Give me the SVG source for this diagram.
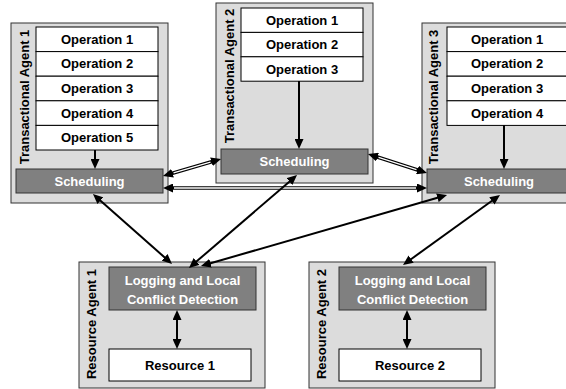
<svg xmlns="http://www.w3.org/2000/svg" width="566" height="389" viewBox="0 0 566 389">
  <style>
    text { font-family: "Liberation Sans", Arial, sans-serif; font-weight: bold; font-size: 13px; }
    .frame { fill: #dcdcdc; stroke: #333333; stroke-width: 1; }
    .op { fill: #ffffff; stroke: #000000; stroke-width: 1; }
    .dark { fill: #808080; stroke: #333333; stroke-width: 1; }
    .res { fill: #ffffff; stroke: #000000; stroke-width: 1; }
    .lbl { fill: #000000; text-anchor: middle; }
    .wlbl { fill: #ffffff; text-anchor: middle; }
    .side { fill: #000000; text-anchor: middle; }
    .link { stroke: #000000; stroke-width: 2; fill: none; }
    .dbl { stroke: #000000; stroke-width: 3.6; fill: none; }
    .dblgap { stroke: #ffffff; stroke-width: 1.3; fill: none; }
  </style>
  <defs>
    <marker id="head" markerUnits="userSpaceOnUse" markerWidth="11" markerHeight="9" refX="1" refY="4.5" orient="auto-start-reverse">
      <path d="M0,0 L10,4.5 L0,9 z" fill="#000000"/>
    </marker>
  </defs>

  <rect width="566" height="389" fill="#ffffff"/>

  <!-- Transactional Agent 1 -->
  <g id="ta1">
    <rect class="frame" x="11" y="23" width="157" height="180"/>
    <text class="side" transform="translate(28.5,97) rotate(-90)">Transactional Agent 1</text>
    <rect class="op" x="36" y="27" width="122" height="24.6"/>
    <rect class="op" x="36" y="51.6" width="122" height="24.6"/>
    <rect class="op" x="36" y="76.2" width="122" height="24.6"/>
    <rect class="op" x="36" y="100.8" width="122" height="24.6"/>
    <rect class="op" x="36" y="125.4" width="122" height="24.6"/>
    <text class="lbl" x="97" y="43.8">Operation 1</text>
    <text class="lbl" x="97" y="68.4">Operation 2</text>
    <text class="lbl" x="97" y="93">Operation 3</text>
    <text class="lbl" x="97" y="117.6">Operation 4</text>
    <text class="lbl" x="97" y="142.2">Operation 5</text>
    <rect class="dark" x="16" y="169" width="147" height="24"/>
    <text class="wlbl" x="89.5" y="185.7">Scheduling</text>
  </g>

  <!-- Transactional Agent 2 -->
  <g id="ta2">
    <rect class="frame" x="216" y="3" width="157" height="180"/>
    <text class="side" transform="translate(233.5,76) rotate(-90)">Transactional Agent 2</text>
    <rect class="op" x="241" y="8" width="122" height="24.4"/>
    <rect class="op" x="241" y="32.4" width="122" height="24.4"/>
    <rect class="op" x="241" y="56.8" width="122" height="24.4"/>
    <text class="lbl" x="302" y="24.7">Operation 1</text>
    <text class="lbl" x="302" y="49.1">Operation 2</text>
    <text class="lbl" x="302" y="73.5">Operation 3</text>
    <rect class="dark" x="221" y="149" width="147" height="25"/>
    <text class="wlbl" x="294.5" y="166">Scheduling</text>
  </g>

  <!-- Transactional Agent 3 -->
  <g id="ta3">
    <rect class="frame" x="422" y="23" width="160" height="180"/>
    <text class="side" transform="translate(438,97) rotate(-90)">Transactional Agent 3</text>
    <rect class="op" x="447" y="27" width="122" height="24.6"/>
    <rect class="op" x="447" y="51.6" width="122" height="24.6"/>
    <rect class="op" x="447" y="76.2" width="122" height="24.6"/>
    <rect class="op" x="447" y="100.8" width="122" height="24.6"/>
    <text class="lbl" x="507" y="43.8">Operation 1</text>
    <text class="lbl" x="507" y="68.4">Operation 2</text>
    <text class="lbl" x="507" y="93">Operation 3</text>
    <text class="lbl" x="507" y="117.6">Operation 4</text>
    <rect class="dark" x="427" y="169" width="147" height="24"/>
    <text class="wlbl" x="499" y="185.7">Scheduling</text>
  </g>

  <!-- Resource Agent 1 -->
  <g id="ra1">
    <rect class="frame" x="79" y="262" width="186" height="126"/>
    <text class="side" transform="translate(96,324) rotate(-90)">Resource Agent 1</text>
    <rect class="dark" x="109" y="267" width="147" height="43"/>
    <text class="wlbl" x="182.5" y="284.5">Logging and Local</text>
    <text class="wlbl" x="182.5" y="303.5">Conflict Detection</text>
    <rect class="res" x="109" y="349" width="142" height="32"/>
    <text class="lbl" x="180" y="369.5">Resource 1</text>
  </g>

  <!-- Resource Agent 2 -->
  <g id="ra2">
    <rect class="frame" x="309" y="262" width="186" height="126"/>
    <text class="side" transform="translate(326,324) rotate(-90)">Resource Agent 2</text>
    <rect class="dark" x="339" y="267" width="147" height="43"/>
    <text class="wlbl" x="412.5" y="284.5">Logging and Local</text>
    <text class="wlbl" x="412.5" y="303.5">Conflict Detection</text>
    <rect class="res" x="339" y="349" width="142" height="32"/>
    <text class="lbl" x="410" y="369.5">Resource 2</text>
  </g>

  <!-- Connectors -->
  <g id="connectors">
    <!-- scheduler-to-scheduler links (double line) -->
    <line class="dbl" x1="171.6" y1="173.5" x2="212.4" y2="161.5" marker-start="url(#head)" marker-end="url(#head)"/>
    <line class="dblgap" x1="173.5" y1="172.9" x2="210.5" y2="162.1"/>
    <line class="dbl" x1="172" y1="188" x2="418" y2="188" marker-start="url(#head)" marker-end="url(#head)"/>
    <line class="dblgap" x1="174" y1="188" x2="416" y2="188"/>
    <line class="dbl" x1="376.6" y1="156.8" x2="418.4" y2="170.2" marker-start="url(#head)" marker-end="url(#head)"/>
    <line class="dblgap" x1="378.5" y1="157.4" x2="416.5" y2="169.6"/>

    <!-- operations to scheduling -->
    <line class="link" x1="95" y1="150" x2="95" y2="160" marker-end="url(#head)"/>
    <line class="link" x1="299" y1="81" x2="299" y2="140" marker-end="url(#head)"/>
    <line class="link" x1="504" y1="125" x2="504" y2="160" marker-end="url(#head)"/>

    <!-- scheduling to logging -->
    <line class="link" x1="99.7" y1="200" x2="165.3" y2="258" marker-start="url(#head)" marker-end="url(#head)"/>
    <line class="link" x1="290.2" y1="180.9" x2="195.8" y2="262.1" marker-start="url(#head)" marker-end="url(#head)"/>
    <line class="link" x1="438.4" y1="197.5" x2="209.6" y2="263.5" marker-start="url(#head)" marker-end="url(#head)"/>
    <line class="link" x1="492.7" y1="200.3" x2="410.3" y2="259.7" marker-start="url(#head)" marker-end="url(#head)"/>

    <!-- logging to resource -->
    <line class="link" x1="177" y1="319" x2="177" y2="340" marker-start="url(#head)" marker-end="url(#head)"/>
    <line class="link" x1="407" y1="319" x2="407" y2="340" marker-start="url(#head)" marker-end="url(#head)"/>
  </g>
</svg>
